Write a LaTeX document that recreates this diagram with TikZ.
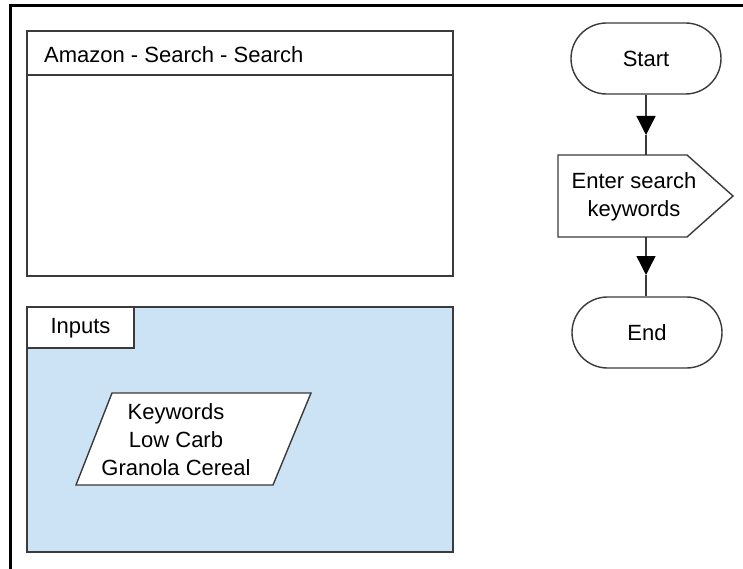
\documentclass[tikz,border=0pt]{standalone}
\usepackage{fontspec}
\setmainfont{Liberation Sans}
\usetikzlibrary{arrows.meta}
\definecolor{inblue}{HTML}{CCE3F6}
\definecolor{edge}{HTML}{3A3A3A}
\begin{document}
\begin{tikzpicture}[x=1pt,y=-1pt,
  frame/.style={line width=3pt,black},
  panel/.style={draw=edge,line width=2pt},
  shp/.style={draw=edge,line width=1.4pt},
  txt/.style={font=\fontsize{22}{28}\selectfont,inner sep=0pt,align=center},
  term/.style={shp,txt,minimum width=150pt,minimum height=71pt,rounded corners=35.5pt},
  conn/.style={draw=edge,line width=1.4pt},
  tip/.style={-{Triangle[width=19pt,length=19pt,color=black]}}]
\useasboundingbox (0,0) rectangle (743,569);
% frame
\draw[frame] (10.5,569) -- (10.5,5.5) -- (743,5.5);
% top panel
\draw[panel] (27,31) rectangle (453,276);
\draw[panel] (27,75) -- (453,75);
\node[txt,anchor=west] (title) at (44,55) {Amazon - Search - Search};
% inputs panel
\draw[panel,fill=inblue] (27,307) rectangle (453,552);
\draw[panel,fill=white] (27,307) rectangle (134,348);
\node[txt] (inputs) at (80.5,328.5) {Inputs};
\draw[shp,fill=white] (112,393) -- (311,393) -- (273,485) -- (76,485) -- cycle;
\node[txt] (kw) at (176,440) {Keywords\\Low Carb\\Granola Cereal};
% flowchart
\node[term] (start) at (646,58.5) {Start};
\draw[shp,fill=white] (558,155) -- (687,155) -- (733,196) -- (687,237) -- (558,237) -- cycle;
\node[txt] (proc) at (634,197) {Enter search\\keywords};
\coordinate (ptop) at (646,155);
\coordinate (pbot) at (646,237);
\node[term] (end) at (647,332.5) {End};
\coordinate (a1) at (646,135);
\coordinate (a2) at (646,275);
\draw[conn,tip] (start.south) -- (a1);
\draw[conn] (a1) -- (ptop);
\draw[conn,tip] (pbot) -- (a2);
\draw[conn] (a2) -- (end.north -| a2);
\end{tikzpicture}
\end{document}
